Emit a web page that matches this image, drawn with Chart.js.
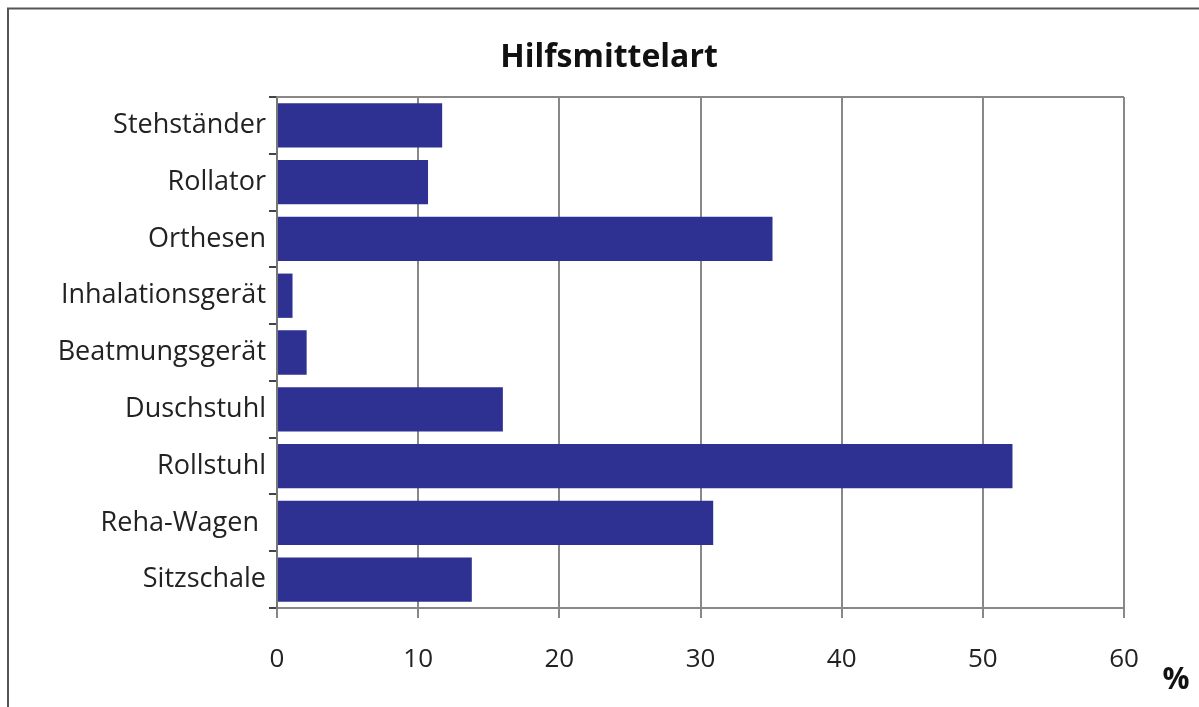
<!DOCTYPE html>
<html>
<head>
<meta charset="utf-8">
<script src="https://cdn.jsdelivr.net/npm/chart.js@4"></script>
<style>
  html, body { margin: 0; padding: 0; background: #fff; }
  #wrap { position: relative; width: 1199px; height: 707px; }
</style>
</head>
<body>
<div id="wrap"><canvas id="chart"></canvas></div>
<script>
// Kategorien und Werte (Prozent)
const categories = ['Stehständer', 'Rollator', 'Orthesen', 'Inhalationsgerät', 'Beatmungsgerät', 'Duschstuhl', 'Rollstuhl', 'Reha-Wagen ', 'Sitzschale'];
const values = [11.7, 10.7, 35.1, 1.1, 2.1, 16.0, 52.1, 30.9, 13.8];
const xTicks = [0, 10, 20, 30, 40, 50, 60];
const titleText = 'Hilfsmittelart';
const unitText = '%';

const FONT = "'Open Sans', 'DejaVu Sans', sans-serif";

// Rahmen, Titel, obere Plotlinie und Einheit zeichnen
const extras = {
    id: 'extras',
    beforeDraw(chart) {
        const ctx = chart.ctx;
        ctx.save();
        ctx.strokeStyle = '#555';
        ctx.lineWidth = 2;
        ctx.beginPath();
        ctx.moveTo(8, 720);
        ctx.lineTo(8, 8.5);
        ctx.lineTo(1199, 8.5);
        ctx.stroke();
        ctx.restore();
    },
    afterDraw(chart) {
        const ctx = chart.ctx;
        const a = chart.chartArea;
        ctx.save();
        ctx.strokeStyle = '#888';
        ctx.lineWidth = 2;
        ctx.beginPath();
        ctx.moveTo(a.left, a.top);
        ctx.lineTo(a.right, a.top);
        ctx.stroke();
        ctx.fillStyle = '#111';
        ctx.textAlign = 'center';
        ctx.textBaseline = 'middle';
        ctx.font = 'bold 32px ' + FONT;
        ctx.fillText(titleText, 609, 58);
        ctx.font = 'bold 30px ' + FONT;
        ctx.fillText(unitText, a.right + 52, 680);
        ctx.restore();
    }
};

new Chart(document.getElementById('chart'), {
    type: 'bar',
    data: {
        labels: categories,
        datasets: [{
            data: values,
            backgroundColor: '#2e3192',
            barPercentage: 0.78,
            categoryPercentage: 1.0
        }]
    },
    options: {
        indexAxis: 'y',
        responsive: true,
        maintainAspectRatio: false,
        animation: false,
        layout: { padding: { left: 0, right: 75, top: 97, bottom: 0 } },
        plugins: {
            legend: { display: false },
            tooltip: { enabled: false },
            title: { display: false }
        },
        scales: {
            x: {
                min: 0,
                max: 60,
                afterBuildTicks(scale) {
                    scale.ticks = xTicks.map(v => ({ value: v }));
                },
                afterFit(scale) { scale.height = 99; },
                grid: {
                    color: '#888',
                    lineWidth: 2,
                    tickLength: 10,
                    drawTicks: true
                },
                border: { display: true, color: '#888', width: 2 },
                ticks: {
                    color: '#222',
                    padding: 26,
                    font: { family: FONT, size: 26 }
                }
            },
            y: {
                afterFit(scale) { scale.width = 277; },
                grid: {
                    drawOnChartArea: false,
                    color: '#444',
                    lineWidth: 2,
                    tickLength: 8,
                    offset: true
                },
                border: { display: true, color: '#777', width: 2 },
                ticks: {
                    color: '#222',
                    padding: 3,
                    font: { family: FONT, size: 27 }
                }
            }
        }
    },
    plugins: [extras]
});
</script>
</body>
</html>
